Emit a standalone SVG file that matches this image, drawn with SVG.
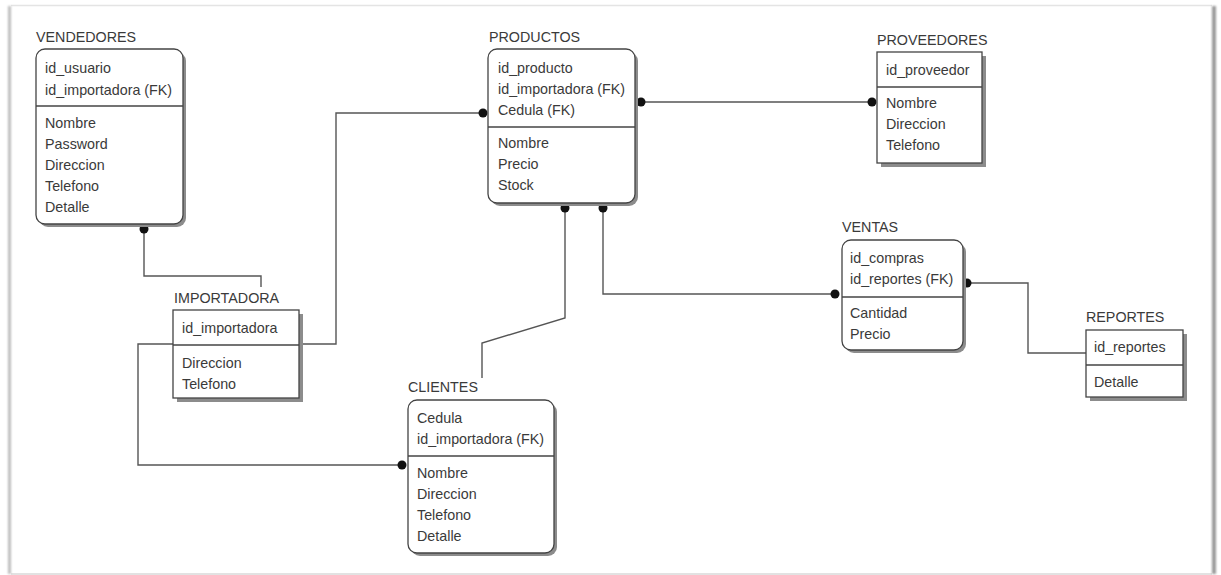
<svg xmlns="http://www.w3.org/2000/svg" width="1221" height="575" viewBox="0 0 1221 575">
  <defs>
    <filter id="soft" x="-10%" y="-10%" width="130%" height="130%">
      <feGaussianBlur stdDeviation="0.7"/>
    </filter>
    <filter id="edge" x="-50%" y="-5%" width="200%" height="110%">
      <feGaussianBlur stdDeviation="1.2"/>
    </filter>
  </defs>
  <style>
    .title { font-family: "Liberation Sans", Arial, sans-serif; font-size: 14.3px; fill: #3a3a3a; }
    .attr { font-family: "Liberation Sans", Arial, sans-serif; font-size: 14.3px; fill: #3a3a3a; }
    .box { fill: #ffffff; stroke: #444444; stroke-width: 1.3; }
    .shadow { fill: #8c8c8c; filter: url(#soft); }
    .div { stroke: #444444; stroke-width: 1.3; }
    .link { fill: none; stroke: #555555; stroke-width: 1.4; }
    .dot { fill: #111111; }
  </style>

  <!-- page -->
  <rect x="0" y="0" width="1221" height="575" fill="#ffffff"/>
  <line x1="11" y1="5.5" x2="1212" y2="5.5" stroke="#e4e4e4" stroke-width="1.5"/>
  <line x1="11" y1="574" x2="1212" y2="574" stroke="#d8d8d8" stroke-width="1.5"/>
  <rect x="8" y="6" width="3" height="568" fill="#bdbdbd" filter="url(#edge)"/>
  <rect x="1212" y="6" width="4" height="568" fill="#9a9a9a" filter="url(#edge)"/>

  <!-- connectors -->
  <g id="connectors">
    <polyline class="link" points="144,229 144,276 261,276 261,287"/>
    <polyline class="link" points="299,344 336,344 336,113 483,113"/>
    <polyline class="link" points="173,344 138,344 138,465 402,465"/>
    <line class="link" x1="641" y1="102" x2="872" y2="102"/>
    <polyline class="link" points="603,208 603,294 835,294"/>
    <polyline class="link" points="565,208 565,318 482,343 482,378"/>
    <polyline class="link" points="967,283 1028,283 1028,353 1086,353"/>
    <circle class="dot" cx="144" cy="229" r="4.5"/>
    <circle class="dot" cx="483" cy="113" r="4.5"/>
    <circle class="dot" cx="402" cy="465" r="4.5"/>
    <circle class="dot" cx="641" cy="102" r="4.5"/>
    <circle class="dot" cx="872" cy="102" r="4.5"/>
    <circle class="dot" cx="565" cy="208" r="4.5"/>
    <circle class="dot" cx="603" cy="208" r="4.5"/>
    <circle class="dot" cx="835" cy="294" r="4.5"/>
    <circle class="dot" cx="967" cy="283" r="4.5"/>
  </g>

  <!-- VENDEDORES -->
  <g id="vendedores">
    <text class="title" x="36" y="42">VENDEDORES</text>
    <rect class="shadow" x="39" y="52" width="147" height="175" rx="9"/>
    <rect class="box" x="36" y="49" width="147" height="175" rx="9"/>
    <line class="div" x1="36" y1="106" x2="183" y2="106"/>
    <text class="attr" x="45" y="73">id_usuario</text>
    <text class="attr" x="45" y="95">id_importadora (FK)</text>
    <text class="attr" x="45" y="128">Nombre</text>
    <text class="attr" x="45" y="149">Password</text>
    <text class="attr" x="45" y="170">Direccion</text>
    <text class="attr" x="45" y="191">Telefono</text>
    <text class="attr" x="45" y="212">Detalle</text>
  </g>

  <!-- IMPORTADORA -->
  <g id="importadora">
    <text class="title" x="174" y="303">IMPORTADORA</text>
    <rect class="shadow" x="177" y="314" width="126" height="88"/>
    <rect class="box" x="173" y="310" width="126" height="88"/>
    <line class="div" x1="173" y1="345" x2="299" y2="345"/>
    <text class="attr" x="182" y="333">id_importadora</text>
    <text class="attr" x="182" y="368">Direccion</text>
    <text class="attr" x="182" y="389">Telefono</text>
  </g>

  <!-- PRODUCTOS -->
  <g id="productos">
    <text class="title" x="489" y="42">PRODUCTOS</text>
    <rect class="shadow" x="491" y="52" width="147" height="154" rx="9"/>
    <rect class="box" x="488" y="49" width="147" height="154" rx="9"/>
    <line class="div" x1="488" y1="127" x2="635" y2="127"/>
    <text class="attr" x="498" y="73">id_producto</text>
    <text class="attr" x="498" y="94">id_importadora (FK)</text>
    <text class="attr" x="498" y="115">Cedula (FK)</text>
    <text class="attr" x="498" y="148">Nombre</text>
    <text class="attr" x="498" y="169">Precio</text>
    <text class="attr" x="498" y="190">Stock</text>
  </g>

  <!-- PROVEEDORES -->
  <g id="proveedores">
    <text class="title" x="877" y="45">PROVEEDORES</text>
    <rect class="shadow" x="881" y="56" width="105" height="111"/>
    <rect class="box" x="877" y="52" width="105" height="111"/>
    <line class="div" x1="877" y1="87" x2="982" y2="87"/>
    <text class="attr" x="886" y="75">id_proveedor</text>
    <text class="attr" x="886" y="108">Nombre</text>
    <text class="attr" x="886" y="129">Direccion</text>
    <text class="attr" x="886" y="150">Telefono</text>
  </g>

  <!-- VENTAS -->
  <g id="ventas">
    <text class="title" x="842" y="232">VENTAS</text>
    <rect class="shadow" x="845" y="243" width="121" height="110" rx="9"/>
    <rect class="box" x="842" y="240" width="121" height="110" rx="9"/>
    <line class="div" x1="842" y1="297" x2="963" y2="297"/>
    <text class="attr" x="850" y="263">id_compras</text>
    <text class="attr" x="850" y="284">id_reportes (FK)</text>
    <text class="attr" x="850" y="318">Cantidad</text>
    <text class="attr" x="850" y="339">Precio</text>
  </g>

  <!-- REPORTES -->
  <g id="reportes">
    <text class="title" x="1086" y="322">REPORTES</text>
    <rect class="shadow" x="1090" y="334" width="97" height="67"/>
    <rect class="box" x="1086" y="330" width="97" height="67"/>
    <line class="div" x1="1086" y1="365" x2="1183" y2="365"/>
    <text class="attr" x="1094" y="352">id_reportes</text>
    <text class="attr" x="1094" y="387">Detalle</text>
  </g>

  <!-- CLIENTES -->
  <g id="clientes">
    <text class="title" x="408" y="392">CLIENTES</text>
    <rect class="shadow" x="411" y="403" width="146" height="153" rx="9"/>
    <rect class="box" x="408" y="400" width="146" height="153" rx="9"/>
    <line class="div" x1="408" y1="456" x2="554" y2="456"/>
    <text class="attr" x="417" y="423">Cedula</text>
    <text class="attr" x="417" y="444">id_importadora (FK)</text>
    <text class="attr" x="417" y="478">Nombre</text>
    <text class="attr" x="417" y="499">Direccion</text>
    <text class="attr" x="417" y="520">Telefono</text>
    <text class="attr" x="417" y="541">Detalle</text>
  </g>
</svg>
